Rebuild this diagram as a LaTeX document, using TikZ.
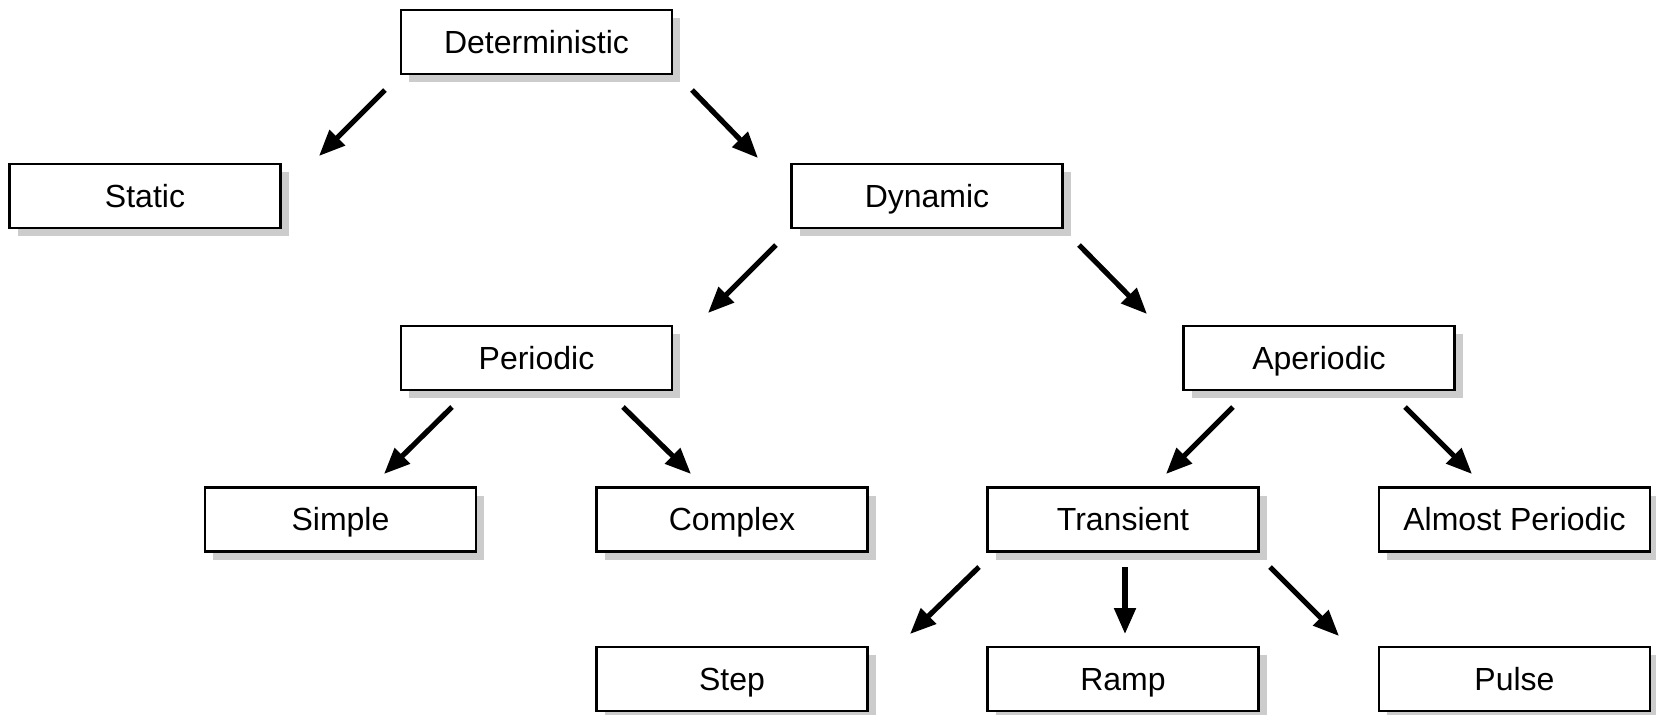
\documentclass[tikz,border=0pt]{standalone}
\usepackage{fontspec}
\setmainfont{Liberation Sans}
\usetikzlibrary{calc,arrows.meta,shadows}
\tikzset{
  box/.style={draw=black, line width=1.2pt, fill=white, minimum width=135.5pt, minimum height=32pt,
    inner sep=0pt, text height=14pt, text depth=3pt, font=\fontsize{16}{19}\selectfont,
    drop shadow={shadow xshift=4pt, shadow yshift=-4pt, fill=black!20, opacity=1}},
  arr/.style={line width=2.6pt, -{Triangle[length=13pt,width=10.5pt]}}
}
\begin{document}
\begin{tikzpicture}[x=0.5pt,y=-0.5pt]
\useasboundingbox (0,0) rectangle (1656,714);
\node[box] (det) at (536.5,42) {Deterministic};
\node[box] (stat) at (145,196) {Static};
\node[box] (dyn) at (927,196) {Dynamic};
\node[box] (per) at (536.5,358) {Periodic};
\node[box] (aper) at (1319,358) {Aperiodic};
\node[box] (simp) at (340.5,519.5) {Simple};
\node[box] (comp) at (732,519.5) {Complex};
\node[box] (trans) at (1123,519.5) {Transient};
\node[box] (almost) at (1514.5,519.5) {Almost Periodic};
\node[box] (stepn) at (732,679) {Step};
\node[box] (ramp) at (1123,679) {Ramp};
\node[box] (pulse) at (1514.5,679) {Pulse};

\draw[arr] ($(det)+(-151.5,48)$) -- ($(stat)+(174,-40)$);
\draw[arr] ($(det)+(155.5,48)$) -- ($(dyn)+(-169,-38)$);
\draw[arr] ($(dyn)+(-151,49)$) -- ($(per)+(171.5,-45)$);
\draw[arr] ($(dyn)+(152,49)$) -- ($(aper)+(-172,-44)$);
\draw[arr] ($(per)+(-84.5,49)$) -- ($(simp)+(43.5,-45.5)$);
\draw[arr] ($(per)+(86.5,49)$) -- ($(comp)+(-41,-45.5)$);
\draw[arr] ($(aper)+(-86,49)$) -- ($(trans)+(43,-45.5)$);
\draw[arr] ($(aper)+(86,49)$) -- ($(almost)+(-42.5,-45.5)$);
\draw[arr] ($(trans)+(-144,47.5)$) -- ($(stepn)+(178,-45)$);
\draw[arr] ($(trans)+(2,47.5)$) -- ($(ramp)+(2,-45)$);
\draw[arr] ($(trans)+(147,47.5)$) -- ($(pulse)+(-175.5,-43)$);
\end{tikzpicture}
\end{document}
